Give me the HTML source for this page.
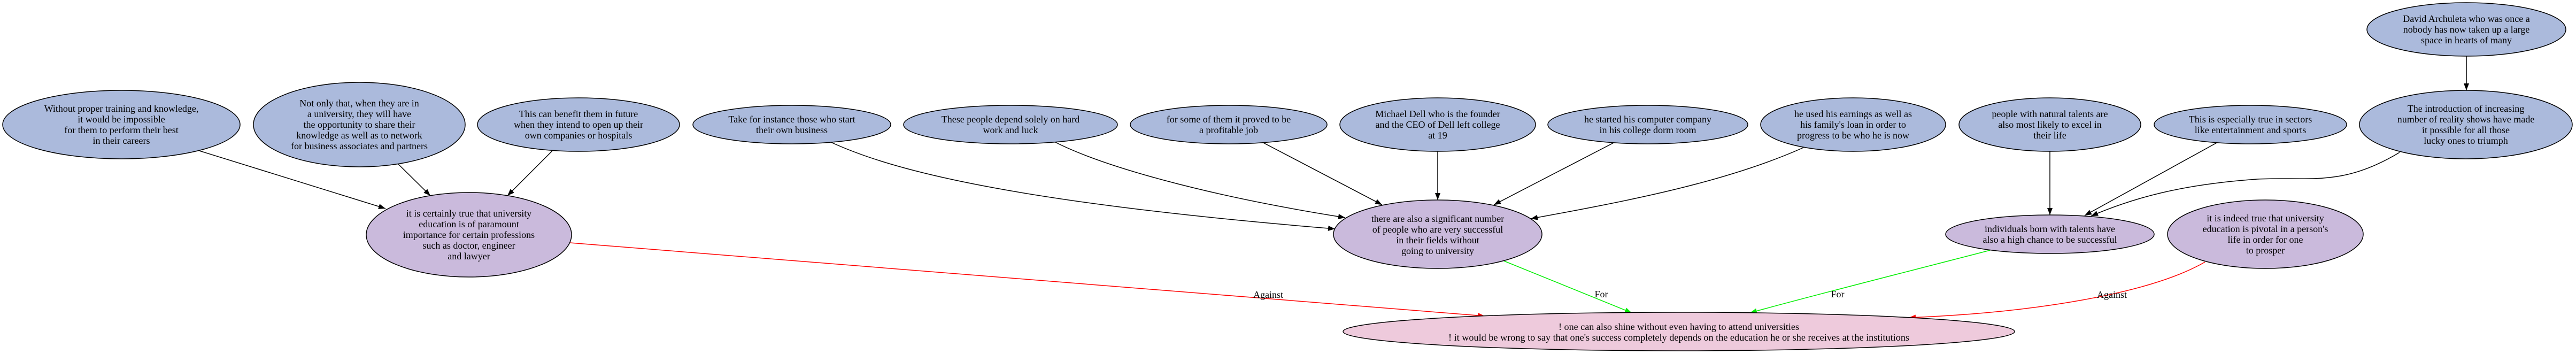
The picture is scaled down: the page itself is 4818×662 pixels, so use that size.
<!DOCTYPE html>
<html><head><meta charset="utf-8"><style>
html,body{margin:0;padding:0;background:#fff;}
svg{display:block;}
text{font-family:"Liberation Serif",serif;font-size:18px;fill:#000;}
</style></head><body>
<svg width="4818" height="662" viewBox="0 0 4818 662" xmlns="http://www.w3.org/2000/svg">
<defs>
<marker id="ak" markerUnits="userSpaceOnUse" markerWidth="14" markerHeight="10" refX="13" refY="5" orient="auto"><path d="M0,0 L13,5 L0,10 z" fill="#000"/></marker>
<marker id="ag" markerUnits="userSpaceOnUse" markerWidth="14" markerHeight="10" refX="13" refY="5" orient="auto"><path d="M0,0 L13,5 L0,10 z" fill="#00ee00"/></marker>
<marker id="ar" markerUnits="userSpaceOnUse" markerWidth="14" markerHeight="10" refX="13" refY="5" orient="auto"><path d="M0,0 L13,5 L0,10 z" fill="#ff0000"/></marker>
</defs>
<g fill="none" stroke="#000" stroke-width="1.5">
<path d="M373,282 L721,390" marker-end="url(#ak)"/>
<path d="M745,307 L805,366" marker-end="url(#ak)"/>
<path d="M1033,282 L949,366" marker-end="url(#ak)"/>
<path d="M1552,265 C1650,310 1850,375 2497,428" marker-end="url(#ak)"/>
<path d="M1972,265 C2060,310 2250,365 2516,407" marker-end="url(#ak)"/>
<path d="M2363,267 L2585,383" marker-end="url(#ak)"/>
<path d="M2689,282 L2689,374" marker-end="url(#ak)"/>
<path d="M3018,267 L2794,383" marker-end="url(#ak)"/>
<path d="M3373,276 C3230,340 3050,375 2863,409" marker-end="url(#ak)"/>
<path d="M3834,282 L3834,402" marker-end="url(#ak)"/>
<path d="M4146,267 L3899,403" marker-end="url(#ak)"/>
<path d="M4488,285 C4380,350 4320,330 4222,335 C4080,345 3990,370 3911,404" marker-end="url(#ak)"/>
<path d="M4613,105 L4613,169" marker-end="url(#ak)"/>
</g>
<path d="M1066,454 L2777,591" fill="none" stroke="#ff0000" stroke-width="1.5" marker-end="url(#ar)"/>
<path d="M2813,488 L3052,585" fill="none" stroke="#00ee00" stroke-width="1.5" marker-end="url(#ag)"/>
<path d="M3722,468 C3560,510 3400,550 3273,585" fill="none" stroke="#00ee00" stroke-width="1.5" marker-end="url(#ag)"/>
<path d="M4124,490 C4020,550 3800,585 3570,594" fill="none" stroke="#ff0000" stroke-width="1.5" marker-end="url(#ar)"/>
<text x="2372" y="557" text-anchor="middle">Against</text>
<text x="2995" y="556" text-anchor="middle">For</text>
<text x="3437" y="556" text-anchor="middle">For</text>
<text x="3950" y="557" text-anchor="middle">Against</text>
<g stroke="#000" stroke-width="1.5">
<ellipse cx="227" cy="233" rx="222" ry="64" fill="#abbadc"/>
<ellipse cx="672" cy="233" rx="198" ry="79" fill="#abbadc"/>
<ellipse cx="1082" cy="233" rx="189" ry="50" fill="#abbadc"/>
<ellipse cx="877" cy="439" rx="192" ry="79" fill="#cabadc"/>
<ellipse cx="1481" cy="233" rx="185" ry="36" fill="#abbadc"/>
<ellipse cx="1890" cy="233" rx="200" ry="36" fill="#abbadc"/>
<ellipse cx="2298" cy="233" rx="184" ry="36" fill="#abbadc"/>
<ellipse cx="2689" cy="233" rx="183" ry="50" fill="#abbadc"/>
<ellipse cx="3082" cy="233" rx="187" ry="36" fill="#abbadc"/>
<ellipse cx="3466" cy="233" rx="173" ry="50" fill="#abbadc"/>
<ellipse cx="3834" cy="233" rx="170" ry="50" fill="#abbadc"/>
<ellipse cx="4209" cy="233" rx="180" ry="36" fill="#abbadc"/>
<ellipse cx="4612" cy="233" rx="199" ry="64" fill="#abbadc"/>
<ellipse cx="4613" cy="55" rx="186" ry="50" fill="#abbadc"/>
<ellipse cx="3834" cy="438" rx="195" ry="36" fill="#cabadc"/>
<ellipse cx="4237" cy="438" rx="183" ry="64" fill="#cabadc"/>
<ellipse cx="2689" cy="438" rx="195" ry="64" fill="#cabadc"/>
<ellipse cx="3140" cy="620" rx="628" ry="36" fill="#eecadc"/>
</g>
<g text-anchor="middle">
<text x="227" y="209">Without proper training and knowledge,</text>
<text x="227" y="229">it would be impossible</text>
<text x="227" y="249">for them to perform their best</text>
<text x="227" y="269">in their careers</text>
<text x="672" y="199">Not only that, when they are in</text>
<text x="672" y="219">a university, they will have</text>
<text x="672" y="239">the opportunity to share their</text>
<text x="672" y="259">knowledge as well as to network</text>
<text x="672" y="279">for business associates and partners</text>
<text x="1082" y="219">This can benefit them in future</text>
<text x="1082" y="239">when they intend to open up their</text>
<text x="1082" y="259">own companies or hospitals</text>
<text x="877" y="405">it is certainly true that university</text>
<text x="877" y="425">education is of paramount</text>
<text x="877" y="445">importance for certain professions</text>
<text x="877" y="465">such as doctor, engineer</text>
<text x="877" y="485">and lawyer</text>
<text x="1481" y="229">Take for instance those who start</text>
<text x="1481" y="249">their own business</text>
<text x="1890" y="229">These people depend solely on hard</text>
<text x="1890" y="249">work and luck</text>
<text x="2298" y="229">for some of them it proved to be</text>
<text x="2298" y="249">a profitable job</text>
<text x="2689" y="219">Michael Dell who is the founder</text>
<text x="2689" y="239">and the CEO of Dell left college</text>
<text x="2689" y="259">at 19</text>
<text x="3082" y="229">he started his computer company</text>
<text x="3082" y="249">in his college dorm room</text>
<text x="3466" y="219">he used his earnings as well as</text>
<text x="3466" y="239">his family's loan in order to</text>
<text x="3466" y="259">progress to be who he is now</text>
<text x="3834" y="219">people with natural talents are</text>
<text x="3834" y="239">also most likely to excel in</text>
<text x="3834" y="259">their life</text>
<text x="4209" y="229">This is especially true in sectors</text>
<text x="4209" y="249">like entertainment and sports</text>
<text x="4612" y="209">The introduction of increasing</text>
<text x="4612" y="229">number of reality shows have made</text>
<text x="4612" y="249">it possible for all those</text>
<text x="4612" y="269">lucky ones to triumph</text>
<text x="4613" y="41">David Archuleta who was once a</text>
<text x="4613" y="61">nobody has now taken up a large</text>
<text x="4613" y="81">space in hearts of many</text>
<text x="3834" y="434">individuals born with talents have</text>
<text x="3834" y="454">also a high chance to be successful</text>
<text x="4237" y="414">it is indeed true that university</text>
<text x="4237" y="434">education is pivotal in a person's</text>
<text x="4237" y="454">life in order for one</text>
<text x="4237" y="474">to prosper</text>
<text x="2689" y="415">there are also a significant number</text>
<text x="2689" y="435">of people who are very successful</text>
<text x="2689" y="455">in their fields without</text>
<text x="2689" y="475">going to university</text>
<text x="3140" y="617" textLength="450" lengthAdjust="spacingAndGlyphs">! one can also shine without even having to attend universities</text>
<text x="3140" y="637" textLength="862" lengthAdjust="spacingAndGlyphs">! it would be wrong to say that one's success completely depends on the education he or she receives at the institutions</text>
</g>
</svg>
</body></html>
